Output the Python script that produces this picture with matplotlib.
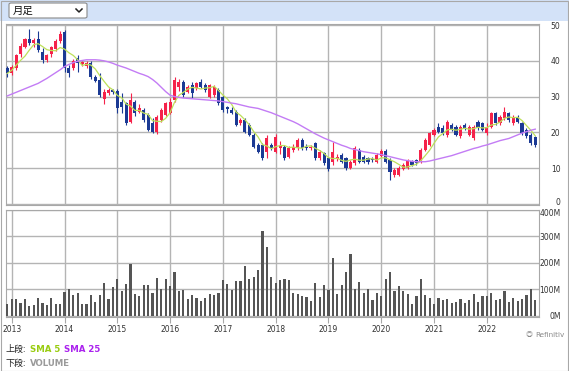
import numpy as np
import pandas as pd
import matplotlib
matplotlib.use("Agg")
import matplotlib.pyplot as plt
import matplotlib.transforms as mtransforms
from matplotlib.patches import Rectangle, FancyBboxPatch
from matplotlib.lines import Line2D

plt.rcParams['font.family'] = ['DejaVu Sans', 'Noto Sans CJK JP']

# --- monthly data, Dec 2012 .. Dec 2022 ---
opens = [38.0,
         36.5, 38.0, 41.8, 44.0, 46.2, 45.0, 46.0, 42.5, 40.3, 41.8, 43.3, 45.5,
         48.0, 38.0, 38.0, 40.8, 39.0, 38.5, 39.5, 35.5, 34.6, 29.2, 31.0, 31.8,
         31.7, 28.6, 28.1, 23.0, 28.6, 25.8, 26.3, 24.9, 22.5, 20.2, 23.5, 24.9,
         25.5, 29.0, 32.7, 34.2, 31.4, 33.2, 32.3, 34.2, 33.2, 30.0, 30.5, 31.8,
         30.0, 27.0, 26.3, 25.8, 22.6, 23.5, 22.0, 19.3, 16.5, 16.5, 14.6, 16.5,
         14.6, 15.5, 15.8, 13.2, 15.1, 15.6, 17.9, 16.0, 15.5, 17.0, 12.8, 14.2,
         12.8, 11.8, 12.5, 13.7, 12.8, 10.1, 11.4, 15.1, 13.2, 12.8, 12.5, 11.8,
         13.4, 14.9, 12.3, 8.1, 8.1, 9.7, 10.0, 12.0, 12.3, 11.8, 15.1, 16.5,
         19.3, 21.6, 21.2, 19.3, 22.1, 21.6, 18.9, 22.1, 19.3, 18.4, 23.0, 22.5,
         19.8, 21.6, 25.3, 22.5, 24.0, 25.3, 22.5, 24.4, 22.5, 20.7, 19.3, 18.6]
highs = [38.5,
         38.8, 42.0, 45.0, 46.5, 48.8, 46.3, 48.3, 43.5, 42.0, 44.2, 46.0, 48.3,
         48.5, 38.8, 40.5, 41.5, 40.0, 40.0, 40.0, 36.0, 36.5, 32.0, 32.5, 32.2,
         32.0, 30.9, 28.5, 31.0, 29.0, 27.8, 26.8, 25.3, 24.0, 24.8, 26.8, 28.6,
         29.5, 35.5, 35.0, 34.6, 33.2, 34.0, 34.2, 35.0, 33.8, 33.6, 33.3, 32.3,
         30.5, 27.5, 27.0, 26.2, 24.0, 24.0, 22.5, 19.8, 17.0, 17.0, 19.3, 17.0,
         19.5, 17.5, 16.5, 16.2, 16.8, 18.3, 18.5, 16.8, 16.5, 17.4, 15.2, 14.6,
         13.2, 17.4, 14.0, 14.2, 13.2, 12.3, 16.2, 15.6, 13.7, 13.2, 13.0, 14.2,
         15.3, 15.3, 12.8, 10.0, 10.5, 11.5, 12.6, 12.4, 12.6, 15.5, 18.3, 20.2,
         21.2, 22.6, 22.0, 23.5, 22.6, 22.1, 22.1, 22.6, 22.1, 22.0, 23.5, 23.0,
         22.6, 25.8, 25.8, 24.9, 27.2, 25.8, 24.9, 24.9, 23.0, 21.2, 19.8, 19.0]
lows = [35.5,
        36.0, 37.5, 41.0, 43.5, 44.5, 44.0, 42.5, 39.5, 39.8, 41.2, 42.8, 45.0,
        37.0, 35.5, 37.5, 37.0, 38.5, 38.0, 35.0, 34.0, 30.0, 28.0, 30.5, 30.8,
        25.3, 25.3, 22.0, 22.5, 24.5, 25.3, 23.0, 20.3, 19.8, 19.6, 23.0, 24.5,
        25.0, 28.5, 31.5, 30.0, 31.0, 29.5, 31.8, 32.4, 31.3, 29.6, 30.0, 27.7,
        25.8, 25.5, 25.0, 21.8, 22.0, 19.8, 19.0, 15.5, 14.2, 12.3, 12.8, 15.0,
        14.2, 14.0, 12.3, 12.8, 14.5, 15.2, 15.2, 15.0, 15.0, 12.3, 12.3, 11.0,
        9.3, 11.0, 12.0, 11.5, 9.6, 9.8, 11.0, 11.4, 11.4, 11.2, 11.8, 11.4,
        13.0, 11.4, 6.7, 7.6, 7.8, 9.4, 9.8, 10.6, 11.0, 11.5, 14.8, 16.2,
        19.0, 19.8, 19.3, 18.8, 20.3, 18.9, 18.5, 20.8, 19.0, 18.0, 20.8, 20.3,
        19.3, 21.2, 22.0, 22.1, 23.5, 23.0, 22.0, 22.6, 19.3, 18.4, 16.4, 16.0]
closes = [36.5,
          38.2, 41.6, 44.2, 46.0, 45.0, 45.8, 43.0, 40.2, 41.6, 43.8, 45.5, 47.5,
          38.0, 36.5, 40.0, 39.5, 39.6, 39.5, 35.5, 34.5, 30.4, 31.4, 31.8, 31.4,
          26.7, 27.2, 22.5, 29.0, 25.3, 26.7, 23.5, 20.7, 20.2, 24.4, 26.3, 28.1,
          28.6, 34.6, 34.2, 30.4, 32.8, 30.9, 33.7, 32.8, 31.8, 33.2, 32.8, 28.1,
          26.3, 26.5, 25.4, 22.1, 23.5, 20.2, 19.3, 16.0, 14.6, 12.8, 18.3, 15.5,
          18.8, 16.2, 12.8, 15.6, 16.0, 17.9, 15.6, 15.6, 16.0, 12.8, 14.6, 11.5,
          9.8, 14.6, 13.2, 11.8, 10.1, 11.8, 15.6, 11.8, 11.8, 11.8, 12.2, 13.7,
          14.9, 11.8, 9.0, 9.5, 10.0, 10.9, 12.3, 10.9, 11.4, 15.1, 17.9, 19.8,
          20.7, 20.2, 19.8, 23.0, 20.7, 19.3, 21.6, 21.2, 21.6, 21.6, 21.1, 20.7,
          21.6, 25.3, 22.5, 24.4, 25.8, 23.5, 24.4, 23.0, 19.8, 18.9, 16.9, 16.5]
volume_m = [44,
            64, 62, 47, 62, 38, 40, 68, 49, 40, 69, 43, 43,
            91, 103, 79, 87, 45, 43, 79, 53, 77, 124, 62, 108,
            139, 95, 121, 197, 84, 73, 115, 115, 88, 144, 103, 139,
            112, 166, 95, 98, 64, 77, 68, 57, 67, 84, 77, 88,
            136, 119, 98, 130, 130, 187, 141, 145, 174, 322, 261, 145,
            124, 135, 141, 134, 87, 82, 76, 72, 55, 124, 71, 115,
            98, 217, 82, 115, 166, 232, 100, 127, 86, 103, 59, 88,
            76, 140, 164, 95, 112, 93, 84, 43, 73, 140, 77, 66,
            43, 66, 59, 62, 47, 53, 63, 49, 59, 82, 53, 73,
            73, 88, 60, 63, 92, 54, 67, 55, 62, 77, 100, 59]
sma25 = [30.2, 30.7, 31.2, 31.7, 32.2, 32.7, 33.2, 33.7,
         34.4, 35.1, 35.9, 36.7, 37.5, 38.4,
         39.0, 39.5, 39.9, 40.1, 40.3, 40.3,
         40.3, 40.2, 40.0, 39.7, 39.3, 38.8,
         38.4, 38.0, 37.5, 37.0, 36.5, 36.1, 35.6, 34.8, 33.8, 32.6, 31.4, 30.4,
         30.0, 29.8, 29.6, 29.5, 29.4, 29.3, 29.2, 29.1, 29.0, 28.9, 28.8, 28.6,
         28.4, 28.2, 28.0, 27.7, 27.4, 27.1, 26.9, 26.7, 26.3, 25.9, 25.5, 25.0,
         24.5, 24.0, 23.5, 23.0, 22.4, 21.7, 21.0, 20.3, 19.6, 19.0, 18.4, 17.9,
         17.4, 16.9, 16.4, 16.0, 15.5, 15.2, 14.9, 14.6, 14.4, 14.2, 14.0, 13.8,
         13.5, 13.2, 12.9, 12.6, 12.3, 12.1, 11.9, 11.8, 11.8, 11.8, 12.0, 12.3,
         12.6, 12.9, 13.2, 13.5, 13.9, 14.3, 14.7, 15.1, 15.5, 15.8, 16.2, 16.5,
         16.9, 17.3, 17.7, 18.0, 18.3, 18.8, 19.3, 19.8, 20.2, 20.6, 20.9]
years = ['2013', '2014', '2015', '2016', '2017', '2018', '2019', '2020', '2021', '2022']

o = np.array(opens); h = np.array(highs); l = np.array(lows); c = np.array(closes)
x = np.arange(len(c))
sma5 = pd.Series(c).rolling(5, min_periods=1).mean()
up = c >= o
red = '#f5224a'
blue = '#1b3a94'
grid_c = '#b4b4b4'
txt_c = '#333333'

W, H = 569, 371
fig = plt.figure(figsize=(W / 100, H / 100), dpi=100)

def box(x0, y0, x1, y1):
    # pixel box (from top-left) -> figure rect
    return [x0 / W, 1 - y1 / H, (x1 - x0) / W, (y1 - y0) / H]

# header band + dropdown
fig.patches.append(Rectangle((0, 1 - 21 / H), 1, 21 / H, transform=fig.transFigure,
                             facecolor='#d3e2f8', edgecolor='none', zorder=0))
fig.patches.append(FancyBboxPatch((9 / W, 1 - 18 / H), 78 / W, 15 / H,
                                  boxstyle='round,pad=0,rounding_size=0.004',
                                  transform=fig.transFigure, facecolor='white',
                                  edgecolor='#8a8a8a', linewidth=0.8, zorder=1))
fig.text(13 / W, 1 - 10.5 / H, '月足', fontsize=7.5, va='center', ha='left',
         family=['Noto Sans CJK JP', 'DejaVu Sans'], color='#111111')
fig.lines.append(Line2D([76 / W, 79 / W, 82 / W], [1 - 9 / H, 1 - 12 / H, 1 - 9 / H],
                        transform=fig.transFigure, color='#222222', linewidth=1.1))
fig.patches.append(Rectangle((0.5 / W, 0.5 / H), 1 - 1.5 / W, 1 - 1.5 / H,
                             transform=fig.transFigure, facecolor='none',
                             edgecolor='#a8a8a8', linewidth=0.8, zorder=5))

ax = fig.add_axes(box(6, 24, 539, 205))
axv = fig.add_axes(box(6, 210, 539, 317))

xlim = (-0.3, 120.85)
year_pos = [1 + 12 * i for i in range(len(years))]

# candles
ax.vlines(x[up], l[up], h[up], color=red, linewidth=0.8, zorder=3)
ax.vlines(x[~up], l[~up], h[~up], color=blue, linewidth=0.8, zorder=3)
body = np.maximum(np.abs(c - o), 0.3)
ax.bar(x[up], body[up], bottom=np.minimum(o, c)[up], width=0.72, color=red, zorder=4)
ax.bar(x[~up], body[~up], bottom=np.minimum(o, c)[~up], width=0.72, color=blue, zorder=4)
ax.plot(x, sma5, color='#bde05a', linewidth=0.9, zorder=5)
ax.plot(x, sma25, color='#c37cf5', linewidth=1.0, zorder=5)
ax.set_ylim(-0.3, 50.3)
ax.set_yticks([0, 10, 20, 30, 40, 50])
ax.set_yticklabels(['0', '10', '20', '30', '40', '50'])

axv.bar(x, np.array(volume_m) * 1e6, width=0.52, color='#555555', zorder=3)
axv.set_ylim(-4.5e6, 400e6)
axv.set_yticks([0, 100e6, 200e6, 300e6, 400e6])
axv.set_yticklabels(['0M', '100M', '200M', '300M', '400M'])

for a in (ax, axv):
    a.set_xlim(*xlim)
    a.set_xticks(year_pos)
    a.grid(True, color=grid_c, linewidth=1.0, zorder=0)
    a.set_axisbelow(True)
    for s in a.spines.values():
        s.set_color('#a8a8a8')
        s.set_linewidth(0.8)
    a.yaxis.tick_right()
    a.tick_params(axis='y', length=0, pad=15.5, labelsize=5.5, labelcolor=txt_c)
    for t in a.get_yticklabels():
        t.set_horizontalalignment('right')

# keep the "0" and "400M" labels from touching
lab0 = ax.get_yticklabels()[0]
lab0.set_transform(lab0.get_transform() + mtransforms.ScaledTranslation(0, 1.5 / 72, fig.dpi_scale_trans))
lab400 = axv.get_yticklabels()[-1]
lab400.set_transform(lab400.get_transform() + mtransforms.ScaledTranslation(0, -1.8 / 72, fig.dpi_scale_trans))

ax.tick_params(axis='x', length=0, labelbottom=False)
axv.set_xticklabels(years)
axv.tick_params(axis='x', length=4, color='#a8a8a8', width=0.8, pad=2,
                labelsize=5.5, labelcolor=txt_c)

# legend text
cjk = ['Noto Sans CJK JP', 'DejaVu Sans']
fig.text(5 / W, 1 - 349 / H, '上段:', fontsize=6.5, va='center', family=cjk, color='#222222')
fig.text(30 / W, 1 - 349 / H, 'SMA 5', fontsize=6.2, va='center', weight='bold', color='#99cc11')
fig.text(64 / W, 1 - 349 / H, 'SMA 25', fontsize=6.2, va='center', weight='bold', color='#aa22ee')
fig.text(5 / W, 1 - 363 / H, '下段:', fontsize=6.5, va='center', family=cjk, color='#222222')
fig.text(30 / W, 1 - 363 / H, 'VOLUME', fontsize=6.2, va='center', weight='bold', color='#9a9a9a')
fig.text(565 / W, 1 - 335 / H, 'Refinitiv', fontsize=5.2, va='center', ha='right', color='#8a8a8a')
fig.text(533 / W, 1 - 335 / H, '◎', fontsize=5.0, va='center', ha='right', family=cjk, color='#8a8a8a')

fig.savefig('out.png', dpi=100)
